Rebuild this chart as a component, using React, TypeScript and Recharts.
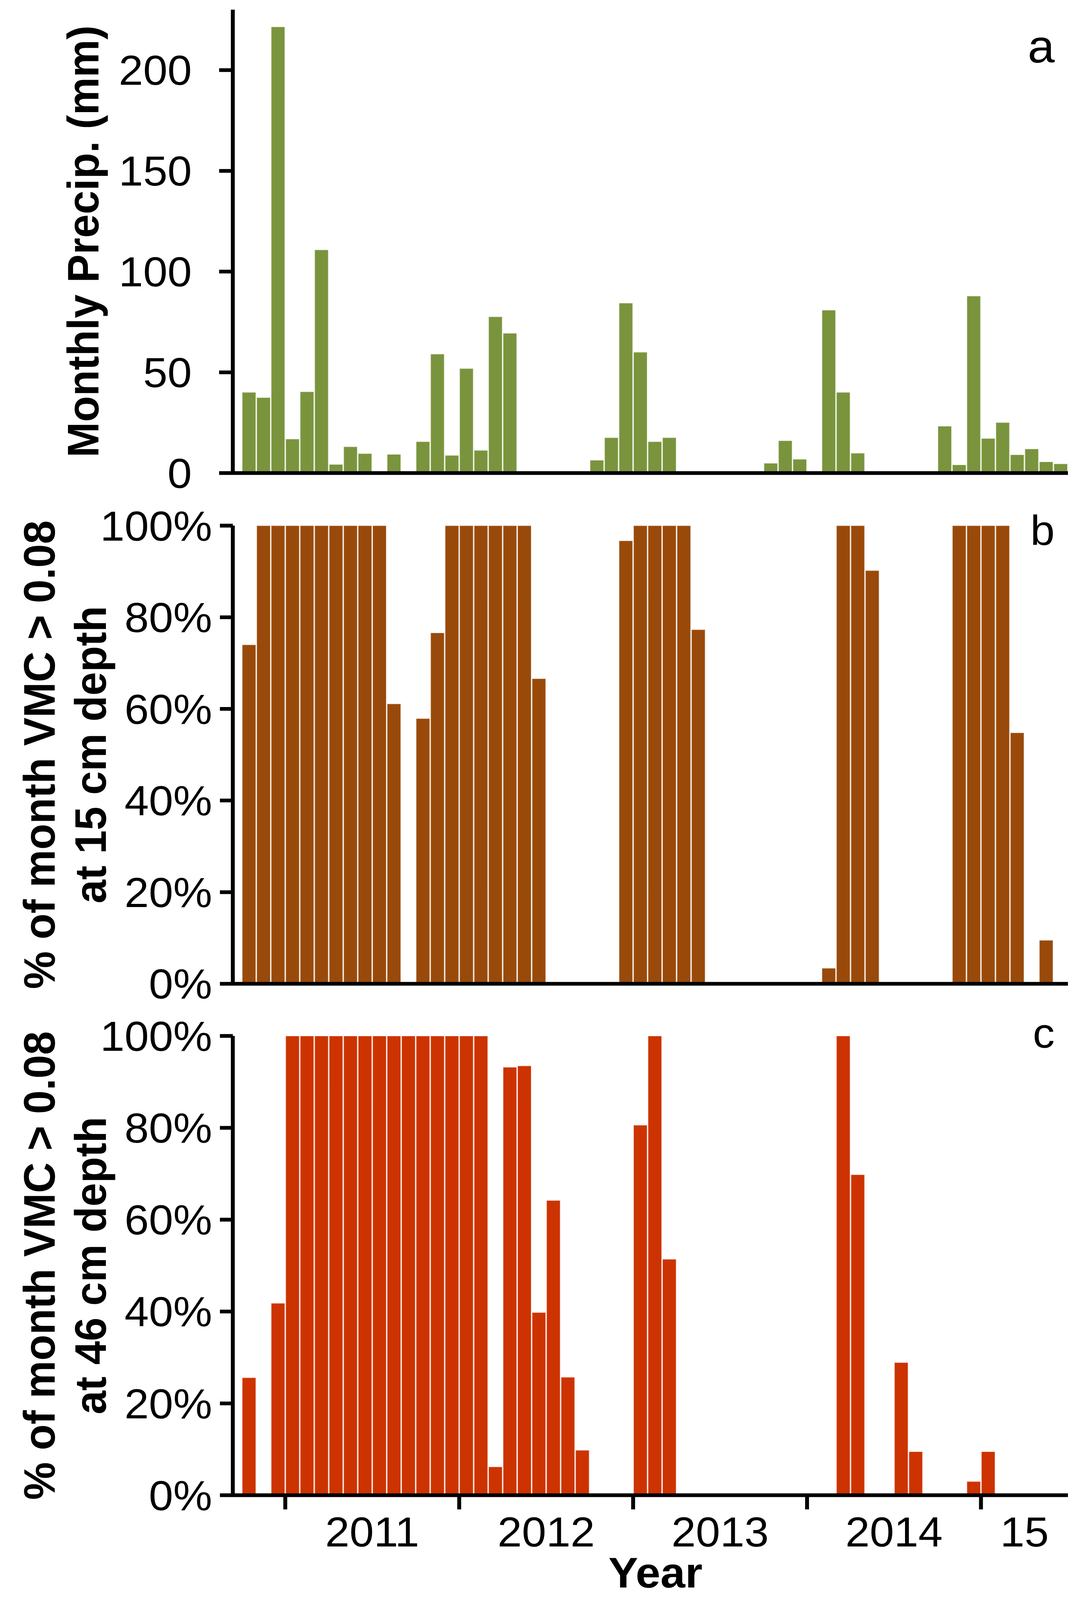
import { BarChart, Bar, XAxis, YAxis } from 'recharts'

// months Oct 2010 .. Jun 2015, one bar per month
const MONTHS = [
  '2010-10', '2010-11', '2010-12',
  '2011-01', '2011-02', '2011-03', '2011-04', '2011-05', '2011-06', '2011-07', '2011-08', '2011-09', '2011-10', '2011-11', '2011-12',
  '2012-01', '2012-02', '2012-03', '2012-04', '2012-05', '2012-06', '2012-07', '2012-08', '2012-09', '2012-10', '2012-11', '2012-12',
  '2013-01', '2013-02', '2013-03', '2013-04', '2013-05', '2013-06', '2013-07', '2013-08', '2013-09', '2013-10', '2013-11', '2013-12',
  '2014-01', '2014-02', '2014-03', '2014-04', '2014-05', '2014-06', '2014-07', '2014-08', '2014-09', '2014-10', '2014-11', '2014-12',
  '2015-01', '2015-02', '2015-03', '2015-04', '2015-05', '2015-06',
]

// panel a: monthly precipitation (mm)
const PRECIP_MM = [
  40.1, 37.5, 221.5,
  16.9, 40.4, 110.8, 4.3, 13.1, 9.7, 0, 9.3, 0, 15.6, 59.1, 8.8,
  51.9, 11.3, 77.6, 69.4, 0, 0, 0, 0, 0, 6.4, 17.6, 84.4,
  60.0, 15.6, 17.6, 0, 0, 0, 0, 0, 0, 4.9, 16.1, 6.9,
  0, 80.9, 40.1, 9.9, 0, 0, 0, 0, 0, 23.3, 4.1, 87.9,
  17.2, 25.1, 9.1, 12.0, 5.6, 4.6,
]

// panel b: % of month VMC > 0.08 at 15 cm
const VMC_15CM = [
  74.0, 100, 100,
  100, 100, 100, 100, 100, 100, 100, 61.1, 0, 57.9, 76.6, 100,
  100, 100, 100, 100, 100, 66.6, 0, 0, 0, 0, 0, 96.7,
  100, 100, 100, 100, 77.3, 0, 0, 0, 0, 0, 0, 0,
  0, 3.4, 100, 100, 90.2, 0, 0, 0, 0, 0, 100, 100,
  100, 100, 54.8, 0, 9.5, 0,
]

// panel c: % of month VMC > 0.08 at 46 cm
const VMC_46CM = [
  25.6, 0, 41.8,
  100, 100, 100, 100, 100, 100, 100, 100, 100, 100, 100, 100,
  100, 100, 6.2, 93.2, 93.5, 39.8, 64.2, 25.7, 9.8, 0, 0, 0,
  80.6, 100, 51.4, 0, 0, 0, 0, 0, 0, 0, 0, 0,
  0, 0, 100, 69.8, 0, 0, 28.9, 9.5, 0, 0, 0, 3.0,
  9.5, 0, 0, 0, 0, 0,
]

const YEAR_TICKS = [2.5, 14.5, 26.5, 38.5, 50.5]
const YEAR_LABELS = ['2011', '2012', '2013', '2014', '15']
const YEAR_LABEL_AT = [8.5, 20.5, 32.5, 44.5, 53.5]
const PRECIP_TICKS = [0, 50, 100, 150, 200]
const PCT_TICKS = [0, 20, 40, 60, 80, 100]

const W = 2770
const H = 4292
const AXIS_X = 596
const RIGHT = 36
const X_MIN = -1.12
const X_MAX = 56.5
const MONTH_PX = (W - AXIS_X - RIGHT) / (X_MAX - X_MIN)
const FONT = 112
const TITLE_FONT = 114
const LINE = { stroke: '#000', strokeWidth: 10 }

const rows = MONTHS.map((m, i) => ({
  month: m,
  idx: i,
  precip: PRECIP_MM[i] || null,
  vmc15: VMC_15CM[i] || null,
  vmc46: VMC_46CM[i] || null,
}))

function yTitle(lines: string[], baselines: number[], fallbackCy: number) {
  return (props: any) => {
    const vb = props?.viewBox
    const cy = vb && typeof vb.y === 'number' ? vb.y + vb.height / 2 : fallbackCy
    return (
      <g>
        {lines.map((t, i) => (
          <text
            key={t}
            transform={`translate(${baselines[i]},${cy}) rotate(-90)`}
            textAnchor="middle"
            fontSize={TITLE_FONT}
            fontWeight="bold"
            fill="#000"
          >
            {t}
          </text>
        ))}
      </g>
    )
  }
}

const YearTick = (props: any) => {
  const { x, y, payload } = props
  const k = YEAR_TICKS.indexOf(payload.value)
  if (k < 0) return null
  const dx = (YEAR_LABEL_AT[k] - YEAR_TICKS[k]) * MONTH_PX
  return (
    <text x={x + dx} y={y} dy="0.71em" textAnchor="middle" fontSize={FONT} fill="#000">
      {YEAR_LABELS[k]}
    </text>
  )
}

const yearTitle = (props: any) => {
  const vb = props?.viewBox
  const cx = vb ? vb.x + vb.width / 2 + 13 : 1678
  const by = vb ? vb.y + vb.height - 34 : 1578
  return (
    <text x={cx} y={by} textAnchor="middle" fontSize={TITLE_FONT} fontWeight="bold" fill="#000">
      Year
    </text>
  )
}

interface PanelProps {
  top: number
  height: number
  marginTop: number
  xAxisHeight: number
  dataKey: string
  color: string
  yDomain: [number, number]
  yTicks: number[]
  pct: boolean
  yTickSize: number
  yTickMargin: number
  title: string[]
  titleX: number[]
  bottom?: boolean
}

function Panel(p: PanelProps) {
  const plotH = p.height - p.marginTop - p.xAxisHeight
  return (
    <div style={{ position: 'absolute', left: 0, top: p.top }}>
      <BarChart
        width={W}
        height={p.height}
        data={rows}
        margin={{ top: p.marginTop, right: RIGHT, left: 0, bottom: 0 }}
      >
        <XAxis
          dataKey="idx"
          type="number"
          domain={[X_MIN, X_MAX]}
          allowDataOverflow
          ticks={YEAR_TICKS}
          interval={0}
          height={p.xAxisHeight}
          stroke="#000"
          strokeWidth={10}
          axisLine={LINE}
          tickLine={LINE}
          tickSize={38}
          tickMargin={20}
          tick={p.bottom ? <YearTick /> : false}
          label={p.bottom ? yearTitle : undefined}
        />
        <YAxis
          width={AXIS_X}
          domain={p.yDomain}
          ticks={p.yTicks}
          interval={0}
          allowDataOverflow
          stroke="#000"
          strokeWidth={10}
          axisLine={LINE}
          tickLine={LINE}
          tickSize={p.yTickSize}
          tickMargin={p.yTickMargin}
          tick={{ fontSize: FONT, fill: '#000' }}
          tickFormatter={(v: number) => (p.pct ? `${v}%` : `${v}`)}
          label={yTitle(p.title, p.titleX, p.marginTop + plotH / 2)}
        />
        <Bar
          dataKey={p.dataKey}
          fill={p.color}
          stroke="#ffffff"
          strokeOpacity={0.55}
          strokeWidth={2}
          barSize={35}
          isAnimationActive={false}
        />
      </BarChart>
    </div>
  )
}

export default function App() {
  // the browser viewport may be shorter than the figure; squeeze vertically to fit
  const vh = typeof window !== 'undefined' && window.innerHeight ? window.innerHeight : H
  const sy = Math.min(1, vh / H)
  return (
    <div
      style={{
        position: 'absolute',
        left: 0,
        top: 0,
        width: W,
        height: H,
        background: '#fff',
        fontFamily: '"Liberation Sans", Arial, Helvetica, sans-serif',
        overflow: 'hidden',
        transform: `scale(1, ${sy})`,
        transformOrigin: '0 0',
      }}
    >
      <Panel
        top={0}
        height={1369}
        marginTop={26}
        xAxisHeight={100}
        dataKey="precip"
        color="#7A943D"
        yDomain={[0, 230]}
        yTicks={PRECIP_TICKS}
        pct={false}
        yTickSize={35}
        yTickMargin={70}
        title={['Monthly Precip. (mm)']}
        titleX={[252]}
      />
      <Panel
        top={1300}
        height={1439}
        marginTop={110}
        xAxisHeight={100}
        dataKey="vmc15"
        color="#994A0A"
        yDomain={[0, 100]}
        yTicks={PCT_TICKS}
        pct
        yTickSize={33}
        yTickMargin={20}
        title={['% of month VMC > 0.08', 'at 15 cm depth']}
        titleX={[140, 271]}
      />
      <Panel
        top={2680}
        height={1612}
        marginTop={99}
        xAxisHeight={281}
        dataKey="vmc46"
        color="#CC3300"
        yDomain={[0, 100]}
        yTicks={PCT_TICKS}
        pct
        yTickSize={33}
        yTickMargin={20}
        title={['% of month VMC > 0.08', 'at 46 cm depth']}
        titleX={[140, 271]}
        bottom
      />
      <svg
        width={W}
        height={H}
        style={{ position: 'absolute', left: 0, top: 0, pointerEvents: 'none' }}
      >
        <text x={2700} y={168} textAnchor="end" fontSize={124} fill="#000">a</text>
        <text x={2700} y={1462} textAnchor="end" fontSize={FONT} fill="#000">b</text>
        <text x={2700} y={2810} textAnchor="end" fontSize={FONT} fill="#000">c</text>
      </svg>
    </div>
  )
}
